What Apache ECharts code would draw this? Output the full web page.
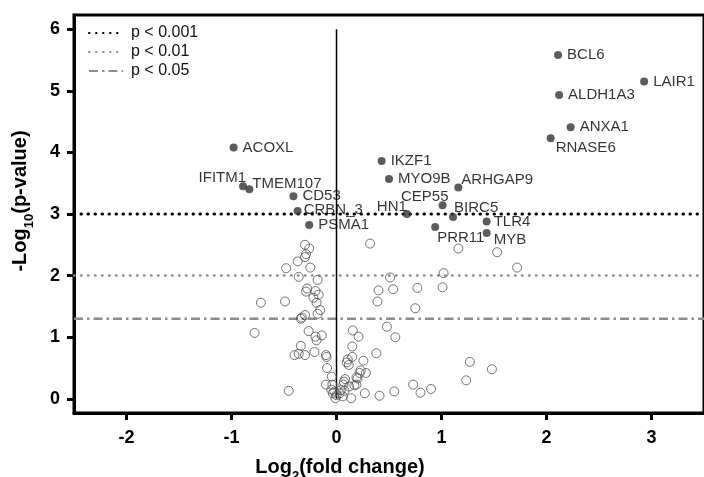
<!DOCTYPE html>
<html>
<head>
<meta charset="utf-8">
<script src="https://cdn.jsdelivr.net/npm/echarts@6/dist/echarts.min.js"></script>
<style>
  html, body { margin: 0; padding: 0; background: #fff; }
  #container { width: 704px; height: 477px; }
</style>
</head>
<body>
<div id="container"></div>
<script>
// labelled genes: log2 fold change, -log10 p
var genes = ['BCL6', 'LAIR1', 'ALDH1A3', 'ANXA1', 'RNASE6', 'ACOXL', 'IFITM1', 'TMEM107', 'CD53', 'CRBN_3',
    'PSMA1', 'IKZF1', 'MYO9B', 'HN1', 'ARHGAP9', 'CEP55', 'BIRC5', 'TLR4', 'PRR11', 'MYB'];
var geneFC = [2.11, 2.93, 2.12, 2.23, 2.04, -0.98, -0.89, -0.83, -0.41, -0.37,
    -0.26, 0.43, 0.50, 0.67, 1.16, 1.01, 1.11, 1.43, 0.94, 1.43];
var geneP = [5.58, 5.15, 4.93, 4.41, 4.23, 4.08, 3.45, 3.40, 3.29, 3.05,
    2.82, 3.86, 3.57, 3.00, 3.43, 3.14, 2.95, 2.88, 2.79, 2.69];

// unlabelled genes
var openFC = [-0.30, -0.26, -0.29, -0.30, -0.37, -0.48, -0.25, -0.36, -0.18, -0.28,
    -0.29, -0.20, -0.17, -0.22, -0.19, -0.72, -0.49, -0.155, -0.18, -0.30,
    -0.33, -0.34, -0.78, -0.265, -0.20, -0.14, -0.19, -0.34, -0.40, -0.36,
    -0.30, -0.21, -0.10, -0.095, -0.09, -0.045, -0.10, -0.04, -0.455, -0.05,
    -0.035, -0.01, 0.00, 0.03, 0.06, 0.076, 0.066, 0.082, 0.12, 0.14,
    0.19, 0.19, 0.22, 0.23, 0.28, 0.107, 0.098, 0.117, 0.15, 0.256,
    0.15, 0.155, 0.21, 0.38, 0.27, 0.41, 0.55, 0.73, 0.80, 0.90,
    0.32, 0.51, 0.54, 0.40, 0.39, 0.77, 0.75, 0.48, 0.56, 1.16,
    1.53, 1.72, 1.02, 1.01, 1.27, 1.235, 1.48, 0.04, 0.07, -0.02,
    0.17, 0.20];
var openP = [2.50, 2.44, 2.35, 2.30, 2.23, 2.12, 2.13, 1.98, 1.93, 1.79,
    1.74, 1.75, 1.69, 1.64, 1.56, 1.56, 1.58, 1.44, 1.38, 1.36,
    1.32, 1.30, 1.07, 1.10, 1.01, 1.03, 0.95, 0.86, 0.71, 0.73,
    0.71, 0.76, 0.71, 0.68, 0.50, 0.36, 0.23, 0.23, 0.13, 0.15,
    0.09, 0.01, 0.06, 0.09, 0.04, 0.13, 0.23, 0.32, 0.20, 0.01,
    0.23, 0.35, 0.42, 0.46, 0.42, 0.64, 0.59, 0.55, 0.68, 0.62,
    0.85, 1.11, 1.01, 0.74, 0.09, 0.05, 0.12, 0.23, 0.10, 0.16,
    2.52, 1.97, 1.78, 1.76, 1.58, 1.80, 1.47, 1.17, 1.00, 2.44,
    2.38, 2.13, 2.04, 1.81, 0.60, 0.30, 0.48, 0.14, 0.28, 0.12,
    0.22, 0.33];

var thresholdNames = ['p < 0.001', 'p < 0.01', 'p < 0.05'];
var thresholdValues = [3, 2, 1.3];

var xTicks = [-2, -1, 0, 1, 2, 3];
var yTicks = [0, 1, 2, 3, 4, 5, 6];
var xRange = [-2.5, 3.5];
var yRange = [-0.23, 6.23];
var zeroLine = [0, 6];

// label placement (style only)
var labelPlace = {
    'RNASE6': ['right', -4, 10],
    'IFITM1': ['left', 12, -8],
    'TMEM107': ['right', -6, -5],
    'CRBN_3': ['right', -3, -1],
    'HN1': ['left', 9, -7],
    'ARHGAP9': ['right', -6, -8],
    'CEP55': ['left', 15, -9],
    'BIRC5': ['right', -8, -9],
    'TLR4': ['right', -2, 0],
    'PRR11': ['right', -7, 11],
    'MYB': ['right', -2, 7]
};

var FONT = 'Liberation Sans, Arial, sans-serif';
var chart = echarts.init(document.getElementById('container'));

var thresholdStyles = [
    {color: '#000', width: 3, type: [0.5, 6.5], cap: 'round'},
    {color: '#8c8c8c', width: 2.5, type: [0.5, 6.5], cap: 'round'},
    {color: '#8c8c8c', width: 2.5, type: [9, 4, 2.5, 4], cap: 'butt'}
];

var series = [];
for (var i = 0; i < thresholdNames.length; i++) {
    series.push({
        name: thresholdNames[i],
        type: 'line',
        symbol: 'none',
        silent: true,
        z: 1,
        itemStyle: {color: thresholdStyles[i].color, opacity: 0},
        lineStyle: thresholdStyles[i],
        data: [[xRange[0], thresholdValues[i]], [xRange[1], thresholdValues[i]]]
    });
}

series.push({
    type: 'line',
    symbol: 'none',
    silent: true,
    z: 1,
    lineStyle: {color: '#000', width: 1.5},
    data: [[0, zeroLine[0]], [0, zeroLine[1]]]
});

var openData = [];
for (var j = 0; j < openFC.length; j++) {
    openData.push([openFC[j], openP[j]]);
}
series.push({
    type: 'scatter',
    symbol: 'circle',
    symbolSize: 9,
    z: 3,
    itemStyle: {color: 'rgba(255,255,255,0)', borderColor: '#505050', borderWidth: 1},
    data: openData
});

var geneData = [];
for (var k = 0; k < genes.length; k++) {
    var p = labelPlace[genes[k]] || ['right', 0, 0];
    geneData.push({
        name: genes[k],
        value: [geneFC[k], geneP[k]],
        label: {position: p[0], offset: [p[1], p[2]]}
    });
}
series.push({
    type: 'scatter',
    symbolSize: 8,
    z: 4,
    itemStyle: {color: '#333'},
    label: {
        show: true,
        formatter: '{b}',
        distance: 5,
        color: '#000',
        fontFamily: FONT,
        fontSize: 15
    },
    data: geneData
});

var option = {
    animation: false,
    backgroundColor: '#fff',
    grid: {
        left: 74, right: -2, top: 15, bottom: 64,
        show: true, borderColor: '#000', borderWidth: 3
    },
    legend: {
        data: thresholdNames,
        orient: 'vertical',
        left: 83,
        top: 20,
        itemWidth: 34,
        itemHeight: 14,
        itemGap: 3,
        itemStyle: {opacity: 0},
        textStyle: {fontFamily: FONT, fontSize: 16, color: '#111', padding: [0, 0, 0, 3]}
    },
    xAxis: {
        type: 'value',
        min: xRange[0],
        max: xRange[1],
        splitLine: {show: false},
        axisLine: {onZero: false, lineStyle: {color: '#000', width: 3}},
        axisTick: {customValues: xTicks, length: 7, lineStyle: {color: '#000', width: 3}},
        axisLabel: {customValues: xTicks, margin: 16, color: '#000', fontFamily: FONT, fontSize: 18, fontWeight: 'bold'}
    },
    yAxis: {
        type: 'value',
        min: yRange[0],
        max: yRange[1],
        splitLine: {show: false},
        axisLine: {onZero: false, lineStyle: {color: '#000', width: 3}},
        axisTick: {customValues: yTicks, length: 7, lineStyle: {color: '#000', width: 3}},
        axisLabel: {customValues: yTicks, margin: 14, color: '#000', fontFamily: FONT, fontSize: 18, fontWeight: 'bold'}
    },
    graphic: [
        {
            type: 'text',
            x: 340, y: 467,
            style: {
                text: '{a|Log}{s|2}{a|(fold change)}',
                align: 'center', verticalAlign: 'middle',
                rich: {
                    a: {fontFamily: FONT, fontSize: 20, fontWeight: 'bold', fill: '#000'},
                    s: {fontFamily: FONT, fontSize: 13, fontWeight: 'bold', fill: '#000', verticalAlign: 'bottom', padding: [0, 0, -6, 0]}
                }
            }
        },
        {
            type: 'text',
            x: 20, y: 201,
            rotation: Math.PI / 2,
            style: {
                text: '{a|-Log}{s|10}{a|(p-value)}',
                align: 'center', verticalAlign: 'middle',
                rich: {
                    a: {fontFamily: FONT, fontSize: 20, fontWeight: 'bold', fill: '#000'},
                    s: {fontFamily: FONT, fontSize: 13, fontWeight: 'bold', fill: '#000', verticalAlign: 'bottom', padding: [0, 0, -6, 0]}
                }
            }
        }
    ],
    series: series
};

chart.setOption(option);
</script>
</body>
</html>
